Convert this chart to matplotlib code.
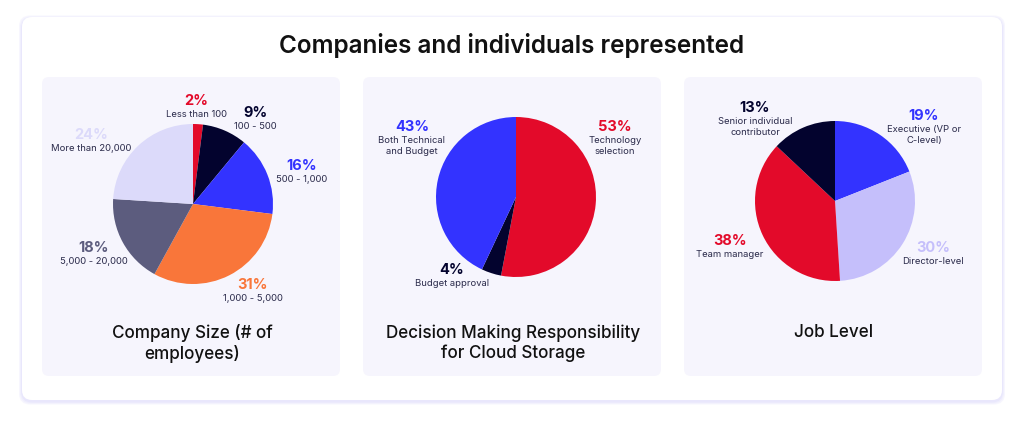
import matplotlib.pyplot as plt
from matplotlib.patches import FancyBboxPatch

# data
size_labels = ["Less than 100", "100 - 500", "500 - 1,000", "1,000 - 5,000",
               "5,000 - 20,000", "More than 20,000"]
size_values = [2, 9, 16, 31, 18, 24]
size_colors = ["#E30A2A", "#03032E", "#3333FF", "#F9763A", "#5C5C7E", "#DCDAFA"]

decision_labels = ["Technology\nselection", "Budget approval", "Both Technical\nand Budget"]
decision_values = [53, 4, 43]
decision_colors = ["#E30A2A", "#03032E", "#3333FF"]

job_labels = ["Executive (VP or\nC-level)", "Director-level", "Team manager",
              "Senior individual\ncontributor"]
job_values = [19, 30, 38, 13]
job_colors = ["#3333FF", "#C5BFFB", "#E30A2A", "#03032E"]

W, H = 1024, 428
plt.rcParams['font.family'] = ['Inter', 'DejaVu Sans']

fig = plt.figure(figsize=(W / 100, H / 100), dpi=100)
ax = fig.add_axes([0, 0, 1, 1])
ax.set_xlim(0, W)
ax.set_ylim(0, H)
ax.set_aspect('equal')
ax.axis('off')


def Y(y):
    return H - y


# soft shadow + outer card
for grow, col in [(3.0, "#F7F6FE"), (2.0, "#F0EFFD"), (1.0, "#E9E7FC")]:
    ax.add_patch(FancyBboxPatch((22 - grow, Y(400) - grow - 1.5), 980 + 2 * grow, 383 + 2 * grow,
                                boxstyle="round,pad=0,rounding_size=11",
                                facecolor=col, edgecolor="none"))
ax.add_patch(FancyBboxPatch((22, Y(400)), 980, 383,
                            boxstyle="round,pad=0,rounding_size=10",
                            facecolor="white", edgecolor="none"))
ax.text(512, Y(45), "Companies and individuals represented", ha='center', va='center',
        fontsize=17.5, fontweight='semibold', color="#111111")

panel_x = [42, 363, 684]
for px in panel_x:
    ax.add_patch(FancyBboxPatch((px, Y(376)), 298, 299,
                                boxstyle="round,pad=0,rounding_size=7",
                                facecolor="#F6F5FD", edgecolor="none"))

label_color = "#2B2B4B"


def draw_pie(cx, cy, values, colors, labels, spots):
    ax.pie(values, colors=colors, startangle=90, counterclock=False,
           center=(cx, Y(cy)), radius=80, wedgeprops=dict(linewidth=0))
    for v, c, lab, (tx, ty) in zip(values, colors, labels, spots):
        ax.text(tx, Y(ty), f"{v}%", ha='center', va='center', fontsize=10.5,
                fontweight='bold', color=c)
        ax.text(tx, Y(ty + 9), lab, ha='center', va='top', fontsize=6.8,
                color=label_color, linespacing=1.3)


draw_pie(193, 204, size_values, size_colors, size_labels,
         [(196, 101), (255, 113), (302, 166), (253, 285), (94, 248), (91, 135)])
draw_pie(516, 197, decision_values, decision_colors, decision_labels,
         [(615, 127), (452, 270), (412, 127)])
draw_pie(835, 201, job_values, job_colors, job_labels,
         [(924, 116), (933, 248), (730, 241), (755, 108)])

ax.set_xlim(0, W)
ax.set_ylim(0, H)

titles = ["Company Size (# of\nemployees)",
          "Decision Making Responsibility\nfor Cloud Storage",
          "Job Level"]
for px, t in zip(panel_x, titles):
    ax.text(px + 150, Y(324), t, ha='center', va='top', fontsize=12.3,
            fontweight='medium', color="#111111", linespacing=1.22)

fig.savefig("out.png", dpi=100, facecolor="white")
